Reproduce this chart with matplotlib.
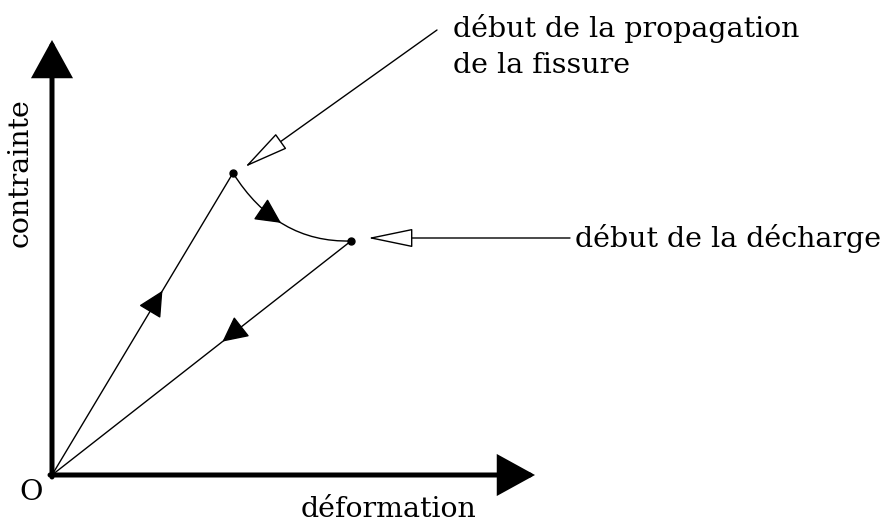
import numpy as np
import matplotlib.pyplot as plt
from matplotlib.path import Path
from matplotlib.patches import PathPatch

# ==========================================
#              DATA (diagram units, origin at O)
# ==========================================
# loading branch O -> A (start of crack growth)
load_x = [0, 181]
load_y = [0, 302]
# crack propagation A -> B : start, bend (control point), end
crack_x = [181, 225, 299]
crack_y = [302, 232, 234]
# unloading branch B -> O
unload_x = [299, 0]
unload_y = [234, 0]

axis_end_x = 483
axis_end_y = 435

label_x = "déformation"
label_y = "contrainte"
label_origin = "O"
note_crack = ["début de la propagation", "de la fissure"]
note_unload = "début de la décharge"

# ==========================================
#              FIGURE
# ==========================================
plt.rcParams['font.family'] = ['DejaVu Serif']
FS = 20.5

fig = plt.figure(figsize=(8.86, 5.25), dpi=100)
ax = fig.add_axes([0, 0, 1, 1])
ax.set_xlim(-52, 834)
ax.set_ylim(-50, 475)
ax.axis('off')

# --- axes with big arrowheads ---
axis_style = dict(arrowstyle='-|>,head_length=1.0,head_width=0.55', color='black',
                  lw=3.6, shrinkA=0, shrinkB=0, mutation_scale=22, joinstyle='miter')
ax.annotate('', xy=(axis_end_x, 0), xytext=(-2, 0), arrowprops=axis_style)
ax.annotate('', xy=(0, axis_end_y), xytext=(0, -2), arrowprops=axis_style)

# --- curve ---
ax.plot(load_x, load_y, color='black', lw=1.0)
ax.plot(unload_x, unload_y, color='black', lw=1.0)
crack_path = Path(list(zip(crack_x, crack_y)), [Path.MOVETO, Path.CURVE3, Path.CURVE3])
ax.add_patch(PathPatch(crack_path, fc='none', ec='black', lw=1.0))
ax.plot([crack_x[0], crack_x[-1]], [crack_y[0], crack_y[-1]], 'o', color='black', ms=5)

# --- direction arrows on the path ---
mid_style = dict(arrowstyle='-|>,head_length=1.0,head_width=0.5', color='black',
                 lw=1.0, shrinkA=0, shrinkB=0, mutation_scale=16)

def mid_arrow(x0, y0, x1, y1, t):
    xt, yt = x0 + t * (x1 - x0), y0 + t * (y1 - y0)
    xb, yb = x0 + (t - 0.05) * (x1 - x0), y0 + (t - 0.05) * (y1 - y0)
    ax.annotate('', xy=(xt, yt), xytext=(xb, yb), arrowprops=mid_style)

mid_arrow(load_x[0], load_y[0], load_x[1], load_y[1], 0.61)
mid_arrow(unload_x[0], unload_y[0], unload_x[1], unload_y[1], 0.43)

def bez(t):
    p = np.array(list(zip(crack_x, crack_y)), dtype=float)
    return (1 - t) ** 2 * p[0] + 2 * t * (1 - t) * p[1] + t ** 2 * p[2]

tip = bez(0.47)
back = bez(0.40)
ax.annotate('', xy=tip, xytext=back, arrowprops=mid_style)

# --- annotations with open arrowheads ---
open_style = dict(arrowstyle='-|>,head_length=1.45,head_width=0.3', fc='white', ec='black',
                  lw=1.0, shrinkA=0, shrinkB=0, mutation_scale=20)
ax.annotate('', xy=(193, 308), xytext=(385, 445), arrowprops=open_style)
ax.annotate('', xy=(316, 237), xytext=(518, 237), arrowprops=open_style)

# --- text ---
ax.text(401, 438, note_crack[0], fontsize=FS, ha='left', va='baseline')
ax.text(401, 402, note_crack[1], fontsize=FS, ha='left', va='baseline')
ax.text(523, 228, note_unload, fontsize=FS, ha='left', va='baseline')
ax.text(337, -42, label_x, fontsize=FS, ha='center', va='baseline')
ax.text(-32, 302, label_y, fontsize=FS, ha='center', va='center', rotation=90)
ax.text(-21, -18, label_origin, fontsize=FS, ha='center', va='center')

fig.savefig("out.png", dpi=100)
